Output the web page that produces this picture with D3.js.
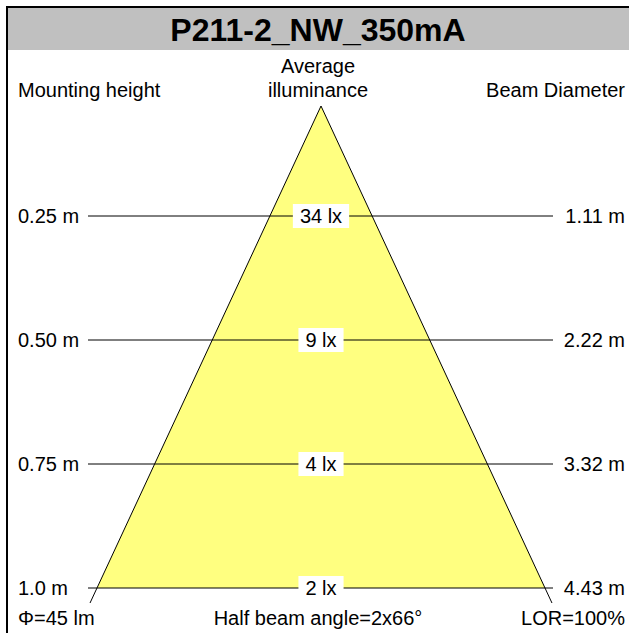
<!DOCTYPE html>
<html>
    <head>
        <style>
            body { margin: 0; background: #fff; }
            svg text { font-family: "Liberation Sans", Arial, sans-serif; fill: #000; }
        </style>
    </head>
    <body>
        <script src="https://cdnjs.cloudflare.com/ajax/libs/d3/7.8.5/d3.min.js"></script>
        <script>
            const title = 'P211-2_NW_350mA';
            const heights = [0.25, 0.50, 0.75, 1.0];
            const heightLabels = ['0.25 m', '0.50 m', '0.75 m', '1.0 m'];
            const luxValues = [34, 9, 4, 2];
            const diameters = [1.11, 2.22, 3.32, 4.43];
            const flux = 45;
            const halfAngle = 66;
            const lor = 100;

            const width = 629, height = 633;
            const cx = 321, apexY = 106;

            const svg = d3.select('body').append('svg')
                .attr('width', width)
                .attr('height', height);

            const y = d3.scaleLinear().domain([0, 1]).range([92, 588]);
            // half width of the cone at a given pixel row
            const halfW = py => (py - apexY) * 224 / (y(1) - apexY);

            // header + frame
            svg.append('rect').attr('x', 8).attr('y', 8).attr('width', width - 8).attr('height', 42).attr('fill', '#c0c0c0');
            svg.append('path').attr('d', `M7,${height} V7 H${width}`).attr('fill', 'none').attr('stroke', '#000').attr('stroke-width', 2);
            svg.append('text').attr('x', 318).attr('y', 41).attr('text-anchor', 'middle')
                .style('font-size', '32px').style('font-weight', 'bold').text(title);

            const fs = '20px';
            svg.append('text').attr('x', 18).attr('y', 97).style('font-size', fs).text('Mounting height');
            svg.append('text').attr('x', 318).attr('y', 73).attr('text-anchor', 'middle').style('font-size', fs).text('Average');
            svg.append('text').attr('x', 318).attr('y', 97).attr('text-anchor', 'middle').style('font-size', fs).text('illuminance');
            svg.append('text').attr('x', 625).attr('y', 97).attr('text-anchor', 'end').style('font-size', fs).text('Beam Diameter');

            // cone
            const yb = y(1), ye = yb + 15;
            svg.append('path')
                .attr('d', `M${cx},${apexY} L${cx + halfW(yb)},${yb} L${cx - halfW(yb)},${yb} Z`)
                .attr('fill', '#ffff80');
            svg.append('path')
                .attr('d', `M${cx - halfW(ye)},${ye} L${cx},${apexY} L${cx + halfW(ye)},${ye}`)
                .attr('fill', 'none').attr('stroke', '#000').attr('stroke-width', 1);

            const rows = svg.selectAll('g.row').data(heights).enter().append('g').attr('class', 'row');

            rows.append('line')
                .attr('x1', 88).attr('x2', 553)
                .attr('y1', d => y(d)).attr('y2', d => y(d))
                .attr('stroke', '#000').attr('stroke-width', 1);

            rows.append('text').attr('x', 18).attr('y', d => y(d) + 7).style('font-size', fs)
                .text((d, i) => heightLabels[i]);
            rows.append('text').attr('x', 625).attr('y', d => y(d) + 7).attr('text-anchor', 'end').style('font-size', fs)
                .text((d, i) => diameters[i].toFixed(2) + ' m');

            const lux = rows.append('text').attr('x', cx).attr('y', d => y(d) + 7).attr('text-anchor', 'middle')
                .style('font-size', fs).text((d, i) => luxValues[i] + ' lx');
            lux.each(function () {
                const b = this.getBBox();
                d3.select(this.parentNode).insert('rect', function () { return this.lastChild; })
                    .attr('x', b.x - 7).attr('y', b.y - 1).attr('width', b.width + 14).attr('height', b.height + 2)
                    .attr('fill', '#fff');
            });
            // keep the labels above their boxes
            rows.each(function () {
                const g = d3.select(this);
                g.select('rect').lower();
                g.select('line').lower();
            });

            svg.append('text').attr('x', 18).attr('y', 625).style('font-size', fs).text('\u03A6=' + flux + ' lm');
            svg.append('text').attr('x', 318).attr('y', 625).attr('text-anchor', 'middle').style('font-size', fs)
                .text('Half beam angle=2x' + halfAngle + '\u00B0');
            svg.append('text').attr('x', 625).attr('y', 625).attr('text-anchor', 'end').style('font-size', fs).text('LOR=' + lor + '%');
        </script>
    </body>
</html>
